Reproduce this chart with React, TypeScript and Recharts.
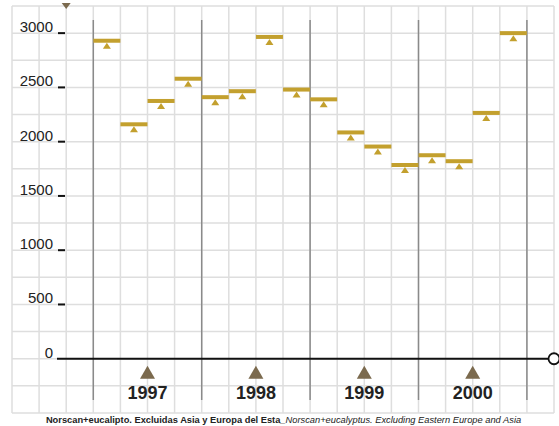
import React from "react";
import {
  ComposedChart,
  Scatter,
  XAxis,
  YAxis,
  CartesianGrid,
  ReferenceLine,
  ReferenceDot,
} from "recharts";

const quarters = [
  "I-1997", "II-1997", "III-1997", "IV-1997",
  "I-1998", "II-1998", "III-1998", "IV-1998",
  "I-1999", "II-1999", "III-1999", "IV-1999",
  "I-2000", "II-2000", "III-2000", "IV-2000",
];
const values = [
  2930, 2160, 2375, 2580,
  2410, 2465, 2965, 2480,
  2390, 2085, 1955, 1785,
  1875, 1820, 2265, 3000,
];
const years = ["1997", "1998", "1999", "2000"];
const yLabelTicks = [0, 500, 1000, 1500, 2000, 2500, 3000];
const gridYTicks = [-500, -250, 0, 250, 500, 750, 1000, 1250, 1500, 1750, 2000, 2250, 2500, 2750, 3000, 3250];
const gridXTicks = [-3, -2, -1, 0, 1, 2, 3, 4, 5, 6, 7, 8, 9, 10, 11, 12, 13, 14, 15, 16, 17];
const yearBounds = [0, 4, 8, 12, 16];

const GOLD = "#c3a02e";
const BROWN = "#7b6a4e";

const pointData = quarters.map((q, i) => ({ x: i + 0.5, y: values[i], name: q }));
const yearData = years.map((yr, i) => ({ x: i * 4 + 2, y: -250, label: yr }));

const Marker = (props: any) => {
  const { cx, cy } = props;
  if (cx == null || cy == null) return null;
  const w = 27;
  return (
    <g>
      <rect x={cx - w / 2} y={cy - 2} width={w} height={4} fill={GOLD} />
      <polygon
        points={`${cx - 4},${cy + 8} ${cx + 4},${cy + 8} ${cx},${cy + 2}`}
        fill={GOLD}
      />
    </g>
  );
};

const YearMarker = (props: any) => {
  const { cx, cy, payload } = props;
  if (cx == null || cy == null) return null;
  return (
    <g>
      <polygon
        points={`${cx - 7.5},${cy - 7} ${cx + 7.5},${cy - 7} ${cx},${cy - 20}`}
        fill={BROWN}
      />
      <text
        x={cx}
        y={cy + 13}
        textAnchor="middle"
        fontFamily="Liberation Sans, Arial, sans-serif"
        fontWeight="bold"
        fontSize={18}
        fill="#222"
      >
        {payload.label}
      </text>
    </g>
  );
};

const YTick = (props: any) => {
  const { y, payload } = props;
  const v = payload.value;
  if (!yLabelTicks.includes(v)) return <g />;
  return (
    <g>
      <text
        x={53}
        y={y - 1}
        textAnchor="end"
        fontFamily="Liberation Sans, Arial, sans-serif"
        fontSize={15}
        fill="#222"
      >
        {v}
      </text>
      {v !== 0 && <line x1={58} x2={65} y1={y} y2={y} stroke="#111" strokeWidth={2} />}
    </g>
  );
};

const EmptyTick = () => <g />;

const TopTriangle = (props: any) => {
  const { cx, cy } = props;
  if (cx == null || cy == null) return null;
  return (
    <polygon
      points={`${cx - 4.5},${cy - 3} ${cx + 4.5},${cy - 3} ${cx},${cy + 3}`}
      fill={BROWN}
    />
  );
};

export default function App() {
  return (
    <div style={{ position: "absolute", left: 0, top: 0, width: 559, height: 426, background: "#fff" }}>
      <ComposedChart
        width={559}
        height={426}
        data={pointData}
        margin={{ top: 6, right: 5, bottom: 0, left: 0 }}
      >
        <CartesianGrid stroke="#dedede" strokeWidth={1.5} />
        <XAxis
          type="number"
          dataKey="x"
          domain={[-3, 17]}
          ticks={gridXTicks}
          interval={0}
          allowDataOverflow
          height={13}
          tick={<EmptyTick />}
          axisLine={false}
          tickLine={false}
        />
        <YAxis
          type="number"
          dataKey="y"
          domain={[-500, 3250]}
          ticks={gridYTicks}
          interval={0}
          allowDataOverflow
          width={12}
          axisLine={false}
          tickLine={false}
          tick={<YTick />}
        />
        {yearBounds.map((b) => (
          <ReferenceLine
            key={b}
            segment={[{ x: b, y: 3120 }, { x: b, y: -380 }]}
            stroke="#8a8a8a"
            strokeWidth={1.5}
            ifOverflow="visible"
          />
        ))}
        <ReferenceLine
          segment={[{ x: -1.34, y: 0 }, { x: 16.8, y: 0 }]}
          stroke="#111"
          strokeWidth={2.2}
          ifOverflow="visible"
        />
        <ReferenceDot
          x={17}
          y={0}
          r={5.5}
          fill="#fff"
          stroke="#111"
          strokeWidth={1.8}
          ifOverflow="visible"
        />
        <ReferenceDot x={-1} y={3250} shape={<TopTriangle />} ifOverflow="visible" />
        <Scatter data={yearData} dataKey="y" shape={<YearMarker />} isAnimationActive={false} />
        <Scatter data={pointData} dataKey="y" shape={<Marker />} isAnimationActive={false} />
      </ComposedChart>
      <div
        style={{
          position: "absolute",
          left: 4,
          top: 415,
          width: 559,
          textAlign: "center",
          fontFamily: "Liberation Sans, Arial, sans-serif",
          fontSize: 9.3,
          color: "#222",
          whiteSpace: "nowrap",
        }}
      >
        <span style={{ fontWeight: "bold" }}>Norscan+eucalipto. Excluidas Asia y Europa del Esta</span>
        <span style={{ fontStyle: "italic" }}>_Norscan+eucalyptus. Excluding Eastern Europe and Asia</span>
      </div>
    </div>
  );
}
